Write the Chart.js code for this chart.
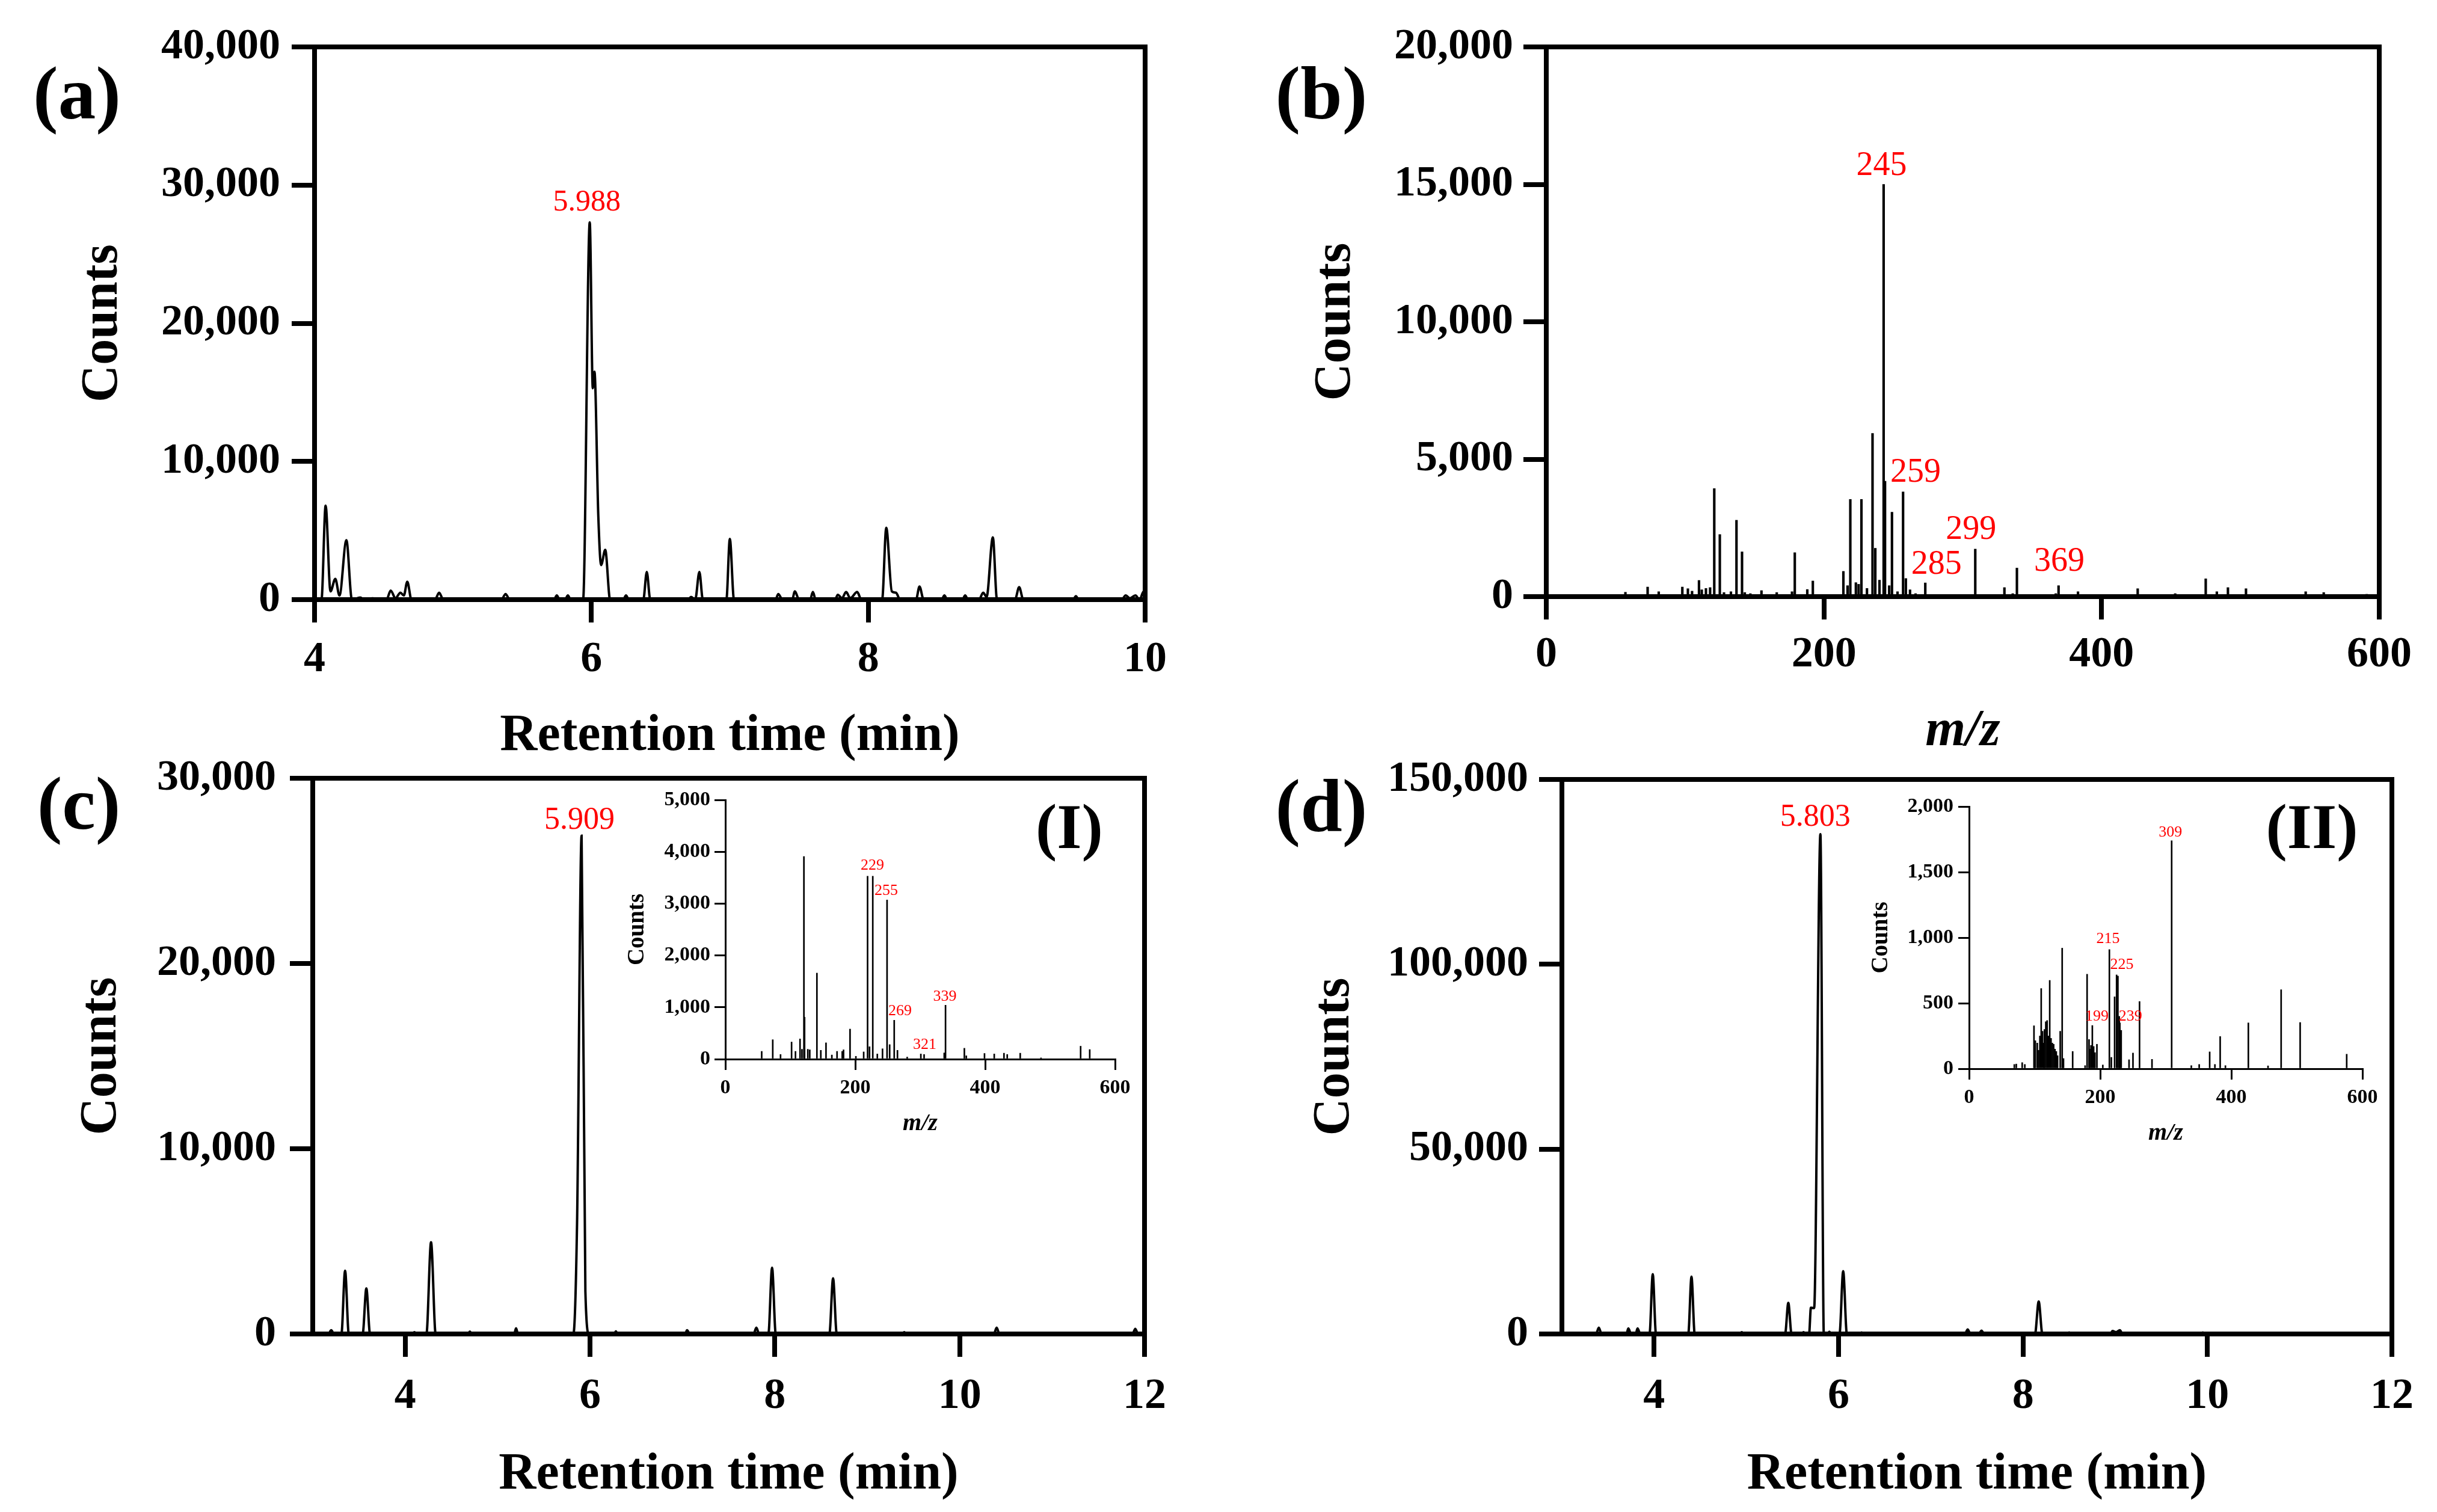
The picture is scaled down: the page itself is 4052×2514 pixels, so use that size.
<!DOCTYPE html>
<html><head><meta charset="utf-8">
<script src="https://cdn.jsdelivr.net/npm/chart.js@4.4.1/dist/chart.umd.min.js"></script>
<style>
html,body{margin:0;padding:0;background:#fff;}
#page{position:relative;width:4052px;height:2514px;overflow:hidden;background:#fff;}
canvas{position:absolute;}
.lbl{position:absolute;font-family:'Liberation Serif','Times New Roman',serif;font-weight:bold;color:#000;line-height:1;transform:translate(-50%,-50%);white-space:nowrap;}
</style></head><body>
<div id="page">
<canvas id="ca"></canvas>
<canvas id="cb"></canvas>
<canvas id="cc"></canvas>
<canvas id="cd"></canvas>
<canvas id="ci"></canvas>
<canvas id="cii"></canvas>
<div class="lbl" style="left:128px;top:155px;font-size:125px">(a)</div>
<div class="lbl" style="left:2197px;top:155px;font-size:125px">(b)</div>
<div class="lbl" style="left:131px;top:1336px;font-size:125px">(c)</div>
<div class="lbl" style="left:2197px;top:1340px;font-size:125px">(d)</div>
<div class="lbl" style="left:1778px;top:1375px;font-size:106px">(I)</div>
<div class="lbl" style="left:3844px;top:1375px;font-size:106px">(II)</div>
</div>
<script>
// ---------------- DATA ----------------
// (a) chromatogram: [retention time (min), counts]
const chromA = [[4.00,0],[4.05,0],[4.08,6800],[4.115,600],[4.15,1500],[4.18,300],[4.23,4300],[4.27,0],[4.33,150],[4.36,0],[4.42,100],[4.46,0],[4.52,0],[4.55,650],[4.585,100],[4.62,500],[4.645,300],[4.67,1300],[4.70,0],[4.87,0],[4.90,500],[4.93,0],[5.35,0],[5.38,400],[5.41,0],[5.73,0],[5.75,300],[5.77,0],[5.81,0],[5.83,300],[5.85,0],[5.94,0],[5.988,27300],[6.01,15300],[6.022,16500],[6.05,6000],[6.07,2500],[6.10,3600],[6.135,0],[6.23,0],[6.25,300],[6.27,0],[6.375,0],[6.40,2000],[6.425,0],[6.70,0],[6.72,200],[6.75,0],[6.78,2000],[6.805,0],[6.975,0],[7.00,4400],[7.03,0],[7.33,0],[7.35,400],[7.38,0],[7.45,0],[7.47,600],[7.50,0],[7.58,0],[7.60,550],[7.62,0],[7.76,0],[7.78,350],[7.81,100],[7.84,550],[7.87,100],[7.92,550],[7.95,0],[8.10,0],[8.13,5200],[8.17,600],[8.20,500],[8.23,0],[8.345,0],[8.37,950],[8.40,0],[8.53,0],[8.55,300],[8.57,0],[8.68,0],[8.70,300],[8.72,0],[8.80,0],[8.83,500],[8.855,200],[8.90,4500],[8.93,0],[9.06,0],[9.09,900],[9.12,0],[9.48,0],[9.50,250],[9.52,0],[9.83,0],[9.86,300],[9.89,100],[9.93,300],[9.96,0],[9.99,600],[10.0,300]];
const xTicksA = [4,6,8,10];
const yTicksA = [0,10000,20000,30000,40000];
const peakTextA = ['5.988'];
const peakAtA = [[5.967,28720]];

// (b) mass spectrum
const mzB = [57,73,81,98,102,105,110,112,115,118,121,125,128,133,137,141,143,147,155,166,177,179,188,192,214,217,219,223,225,227,231,235,237,240,243,244,247,249,253,257,259,262,266,273,309,330,336,339,367,369,383,426,453,475,483,491,504,547,560,591];
const intB = [160,350,180,350,290,200,590,250,300,330,3930,2260,150,180,2780,1630,150,110,220,150,180,1600,260,570,920,400,3540,510,450,3540,300,5940,1760,600,15000,4200,400,3070,180,3810,660,250,110,500,1730,330,110,1040,110,400,180,290,110,650,180,330,290,180,150,80];
const xTicksB = [0,200,400,600];
const yTicksB = [0,5000,10000,15000,20000];
const peakTextB = ['245','259','299','285','369'];
const peakAtB = [[241.5,15667],[266,4494],[306,2417],[281,1164],[369.5,1271]];

// (c) chromatogram
const chromC = [[3.00,0],[3.17,0],[3.20,200],[3.23,0],[3.31,0],[3.35,3420],[3.39,0],[3.54,0],[3.58,2460],[3.62,0],[4.08,0],[4.10,100],[4.12,0],[4.23,0],[4.28,4950],[4.33,0],[4.68,0],[4.70,130],[4.72,0],[5.18,0],[5.20,310],[5.22,0],[5.82,0],[5.86,6000],[5.909,26900],[5.95,2300],[5.99,0],[6.26,0],[6.28,150],[6.30,0],[7.03,0],[7.05,200],[7.08,0],[7.77,0],[7.80,340],[7.83,0],[7.93,0],[7.97,3580],[8.01,0],[8.59,0],[8.63,3000],[8.67,0],[9.38,0],[9.40,100],[9.42,0],[10.37,0],[10.40,340],[10.43,0],[11.87,0],[11.90,280],[11.93,0],[12.0,0]];
const xTicksC = [4,6,8,10,12];
const yTicksC = [0,10000,20000,30000];
const peakTextC = ['5.909'];
const peakAtC = [[5.886,27700]];

// (d) chromatogram
const chromD = [[3.00,1300],[3.03,0],[3.37,0],[3.40,1700],[3.43,0],[3.70,0],[3.72,1500],[3.75,0],[3.80,0],[3.82,1500],[3.85,0],[3.95,0],[3.985,16200],[4.02,0],[4.37,0],[4.405,15500],[4.44,0],[4.93,0],[4.95,500],[4.97,0],[5.42,0],[5.455,8400],[5.49,0],[5.60,0],[5.62,500],[5.64,0],[5.68,0],[5.70,7100],[5.735,7000],[5.803,135200],[5.84,0],[5.88,0],[5.90,600],[5.92,0],[6.01,0],[6.05,17000],[6.09,0],[6.23,0],[6.25,400],[6.27,0],[7.37,0],[7.40,1200],[7.43,0],[7.52,0],[7.55,900],[7.58,0],[8.13,0],[8.17,8800],[8.21,0],[8.48,0],[8.50,400],[8.52,0],[8.95,0],[8.97,800],[9.01,500],[9.05,1000],[9.08,0],[9.93,0],[9.95,400],[9.97,0],[12.0,0]];
const xTicksD = [4,6,8,10,12];
const yTicksD = [0,50000,100000,150000];
const peakTextD = ['5.803'];
const peakAtD = [[5.748,139740]];

// (I) inset spectrum
const mzI = [56,73,85,102,108,115,118,121,122,127,130,141,147,155,164,172,180,182,192,201,213,219,222,227,234,242,249,253,260,265,280,301,306,337,339,368,371,399,414,429,434,454,486,547,561];
const intI = [150,375,90,330,150,390,190,3910,810,190,180,1660,170,315,80,150,150,180,580,55,140,3530,240,3530,100,200,3070,280,750,170,40,100,90,120,1040,210,65,110,100,115,90,115,25,250,185];
const xTicksI = [0,200,400,600];
const yTicksI = [0,1000,2000,3000,4000,5000];
const peakTextI = ['229','255','269','321','339'];
const peakAtI = [[226.5,3732],[247.6,3242],[269,925],[307,275],[338,1200]];

// (II) inset spectrum
const mzII = [69,72,81,85,99,101,104,106,110,112,114,117,119,123,125,127,129,133,139,142,144,158,177,180,183,186,188,192,195,204,214,217,222,225,227,232,244,250,260,279,309,339,351,367,375,383,391,426,456,476,505,576,108,115,121,131,135,184,190,229,230];
const intII = [33,36,47,33,328,214,196,141,612,286,196,359,368,674,232,196,187,132,286,920,78,132,24,721,223,178,330,123,187,29,909,87,549,716,707,293,69,120,513,72,1739,24,33,129,33,246,24,350,22,603,353,111,250,300,250,150,100,150,170,400,350];
const xTicksII = [0,200,400,600];
const yTicksII = [0,500,1000,1500,2000];
const peakTextII = ['309','215','225','199','239'];
const peakAtII = [[307,1804],[212,989],[233,793],[195,400],[246,400]];

// ---------------- RENDERING ----------------
const FONT = "'Liberation Serif','Times New Roman',serif";
Chart.defaults.font.family = FONT;
Chart.defaults.color = '#000';

function fixedTicks(arr){ return function(axis){ axis.ticks = arr.map(v => ({value: v})); }; }
function fmt(v){ return Number(v).toLocaleString('en-US'); }

const framePlugin = {
  id: 'frame',
  afterDraw(chart, args, opts){
    if (!opts || !opts.width) return;
    const ctx = chart.ctx, a = chart.chartArea;
    ctx.save();
    ctx.strokeStyle = '#000'; ctx.lineWidth = opts.width; ctx.lineCap = 'square'; ctx.lineJoin = 'miter';
    ctx.beginPath(); ctx.moveTo(a.left, a.top); ctx.lineTo(a.right, a.top); ctx.lineTo(a.right, a.bottom); ctx.stroke();
    ctx.restore();
  }
};
const peakLabelPlugin = {
  id: 'peakLabels',
  afterDatasetsDraw(chart, args, opts){
    if (!opts || !opts.texts) return;
    const ctx = chart.ctx, xs = chart.scales.x, ys = chart.scales.y;
    ctx.save();
    ctx.fillStyle = '#ff0000';
    ctx.font = opts.size + 'px ' + FONT;
    ctx.textAlign = 'center'; ctx.textBaseline = 'middle';
    opts.texts.forEach((t, i) => ctx.fillText(t, xs.getPixelForValue(opts.at[i][0]), ys.getPixelForValue(opts.at[i][1])));
    ctx.restore();
  }
};
Chart.register(framePlugin, peakLabelPlugin);

function makeChart(id, g, type, datasets, ax, labels){
  const cv = document.getElementById(id);
  cv.width = g.w; cv.height = g.h;
  Object.assign(cv.style, {left: g.x + 'px', top: g.y + 'px', width: g.w + 'px', height: g.h + 'px'});
  const gridOpt = {display: true, drawOnChartArea: false, drawTicks: true, tickLength: g.tickLen, tickWidth: g.axisW, tickColor: '#000', offset: false, lineWidth: g.axisW, color: '#000'};
  const borderOpt = {display: true, width: g.axisW, color: '#000'};
  return new Chart(cv, {
    type,
    data: {datasets},
    options: {
      responsive: false, devicePixelRatio: 1, animation: false, events: [],
      layout: {padding: {left: 0, top: g.padTop, right: g.padRight, bottom: 0}},
      plugins: {legend: {display: false}, tooltip: {enabled: false}, frame: {width: g.frame ? g.axisW : 0}, peakLabels: labels},
      scales: {
        x: {type: 'linear', min: ax.xMin, max: ax.xMax, offset: false,
            afterBuildTicks: fixedTicks(ax.xTicks), afterFit(s){ s.height = g.xH; },
            grid: gridOpt, border: borderOpt,
            ticks: {font: {size: g.tickSize, weight: 'bold'}, padding: g.xTickPad, maxRotation: 0, autoSkip: false, color: '#000'},
            title: {display: true, text: ax.xTitle, color: '#000', font: {size: g.xTitleSize, weight: 'bold', style: ax.xItalic ? 'italic' : 'normal'}, padding: {top: 0, bottom: g.xTitlePad}}},
        y: {type: 'linear', min: ax.yMin, max: ax.yMax,
            afterBuildTicks: fixedTicks(ax.yTicks), afterFit(s){ s.width = g.yW; },
            grid: gridOpt, border: borderOpt,
            ticks: {font: {size: g.tickSize, weight: 'bold'}, padding: g.yTickPad, autoSkip: false, color: '#000', callback: v => fmt(v)},
            title: {display: true, text: 'Counts', color: '#000', font: {size: g.yTitleSize, weight: 'bold'}, padding: {top: g.yTitlePad, bottom: 0}}}
      }
    }
  });
}

function lineSet(pairs){
  return [{data: pairs.map(p => ({x: p[0], y: p[1]})), borderColor: '#000', borderWidth: 4, pointRadius: 0, fill: false, cubicInterpolationMode: 'monotone'}];
}
function barSet(mz, inten, w){
  return [{data: mz.map((m, i) => ({x: m, y: inten[i]})), backgroundColor: '#000', borderWidth: 0, barThickness: w, grouped: false}];
}

const big = {tickSize: 72, xTitleSize: 86, yTitleSize: 86, axisW: 8, tickLen: 38, frame: true};
const small = {tickSize: 34, xTitleSize: 40, yTitleSize: 39, axisW: 3, tickLen: 18, frame: false};

const gA = Object.assign({x: 0, y: 0, w: 2030, h: 1300, padTop: 78, padRight: 126, yW: 523, xH: 303, yTitlePad: 120, xTitlePad: 24, yTickPad: 19, xTickPad: 19}, big);
const gB = Object.assign({x: 2030, y: 0, w: 2022, h: 1300, padTop: 78, padRight: 96, yW: 541, xH: 308, yTitlePad: 140, xTitlePad: 32, yTickPad: 17, xTickPad: 16}, big);
const gC = Object.assign({x: 0, y: 1220, w: 2030, h: 1294, padTop: 74, padRight: 127, yW: 520, xH: 296, yTitlePad: 118, xTitlePad: 10, yTickPad: 23, xTickPad: 23}, big);
const gD = Object.assign({x: 2030, y: 1220, w: 2022, h: 1294, padTop: 76, padRight: 75, yW: 567, xH: 296, yTitlePad: 138, xTitlePad: 10, yTickPad: 18, xTickPad: 23}, big);
const gI = Object.assign({x: 1000, y: 1290, w: 900, h: 620, padTop: 40, padRight: 46, yW: 206, xH: 149, yTitlePad: 36.6, xTitlePad: 17, yTickPad: 7, xTickPad: 9.6}, small);
const gII = Object.assign({x: 3060, y: 1300, w: 930, h: 620, padTop: 41, padRight: 62, yW: 214, xH: 143, yTitlePad: 44.6, xTitlePad: 11, yTickPad: 8, xTickPad: 9.6}, small);

makeChart('ca', gA, 'line', lineSet(chromA),
  {xMin: 4, xMax: 10, yMin: 0, yMax: 40000, xTicks: xTicksA, yTicks: yTicksA, xTitle: 'Retention time (min)'},
  {texts: peakTextA, at: peakAtA, size: 50});
makeChart('cb', gB, 'bar', barSet(mzB, intB, 3.5),
  {xMin: 0, xMax: 600, yMin: 0, yMax: 20000, xTicks: xTicksB, yTicks: yTicksB, xTitle: 'm/z', xItalic: true},
  {texts: peakTextB, at: peakAtB, size: 56});
makeChart('cc', gC, 'line', lineSet(chromC),
  {xMin: 3, xMax: 12, yMin: 0, yMax: 30000, xTicks: xTicksC, yTicks: yTicksC, xTitle: 'Retention time (min)'},
  {texts: peakTextC, at: peakAtC, size: 52});
makeChart('cd', gD, 'line', lineSet(chromD),
  {xMin: 3, xMax: 12, yMin: 0, yMax: 150000, xTicks: xTicksD, yTicks: yTicksD, xTitle: 'Retention time (min)'},
  {texts: peakTextD, at: peakAtD, size: 52});
makeChart('ci', gI, 'bar', barSet(mzI, intI, 2),
  {xMin: 0, xMax: 600, yMin: 0, yMax: 5000, xTicks: xTicksI, yTicks: yTicksI, xTitle: 'm/z', xItalic: true},
  {texts: peakTextI, at: peakAtI, size: 26});
makeChart('cii', gII, 'bar', barSet(mzII, intII, 2),
  {xMin: 0, xMax: 600, yMin: 0, yMax: 2000, xTicks: xTicksII, yTicks: yTicksII, xTitle: 'm/z', xItalic: true},
  {texts: peakTextII, at: peakAtII, size: 26});
</script>
</body></html>
